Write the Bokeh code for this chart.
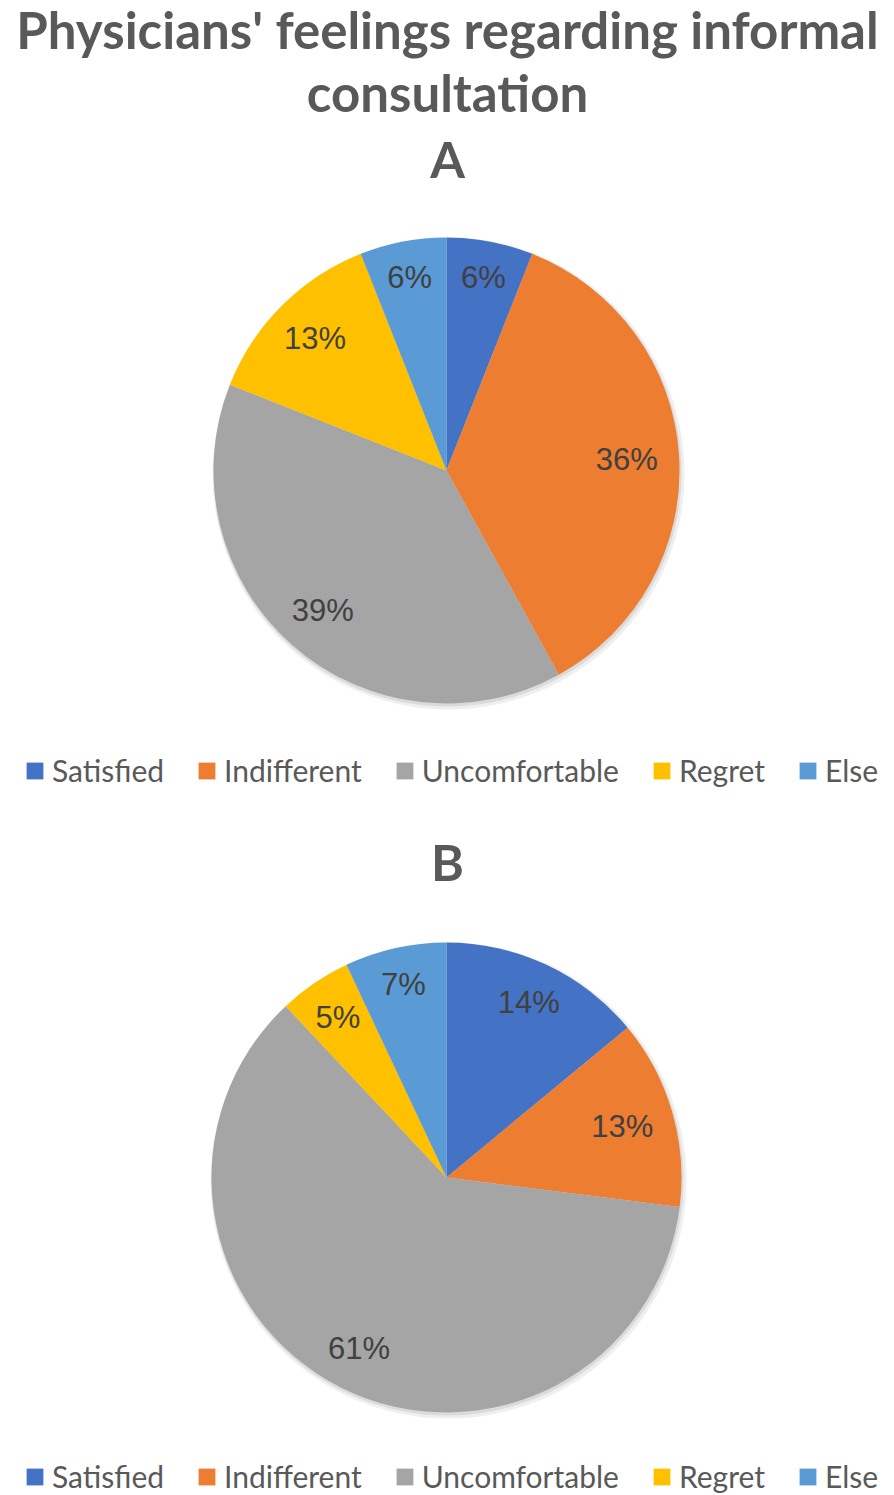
import numpy as np
from bokeh.plotting import figure
from bokeh.models import Range1d, ColumnDataSource, Legend, LegendItem
from bokeh.core.properties import value
from bokeh.embed import file_html
from bokeh.resources import INLINE

# ---- data ----
categories = ["Satisfied", "Indifferent", "Uncomfortable", "Regret", "Else"]
values_a = [6, 36, 39, 13, 6]
values_b = [14, 13, 61, 5, 7]
colors = ["#4472C4", "#ED7D31", "#A5A5A5", "#FFC000", "#5B9BD5"]
title_lines = ["Physicians' feelings regarding informal", "consultation"]
panel_titles = ["A", "B"]

# ---- layout (page pixel coordinates; y measured downward from top) ----
W, H = 894, 1495
LABEL_PX = 31


def Y(page_y):
    return H - page_y


p = figure(width=W, height=H, x_range=Range1d(0, W), y_range=Range1d(0, H),
           output_backend="svg", toolbar_location=None, min_border=0,
           x_axis_location=None, y_axis_location=None)
p.grid.visible = False
p.outline_line_color = None
p.background_fill_color = "white"
p.border_fill_color = "white"

TITLE_COLOR = "#595959"
LABEL_COLOR = "#404040"

# main title
p.text(x=[447, 447], y=[Y(29), Y(92)], text=title_lines,
       text_font=value("Lato"), text_font_style="bold", text_font_size="51px",
       text_color=TITLE_COLOR, text_align="center", text_baseline="middle")


def pie(vals, cx, cy_page, r, title_txt, title_mid_page, legend_y):
    cy = Y(cy_page)
    vals = np.asarray(vals, dtype=float)
    frac = vals / vals.sum()
    cum = np.concatenate([[0], np.cumsum(frac)])
    start = np.pi / 2 - 2 * np.pi * cum[:-1]
    end = np.pi / 2 - 2 * np.pi * cum[1:]
    mid = np.pi / 2 - 2 * np.pi * (cum[:-1] + frac / 2)
    labels = ["%d%%" % v for v in vals]
    # approximate label width, used to pull wide labels inward on the sides
    lw = np.array([(0.556 * (len(t) - 1) + 0.889) * LABEL_PX for t in labels])
    dist = 0.855 * r - 0.3 * lw * np.abs(np.cos(mid))
    src = ColumnDataSource(dict(
        x=[cx] * len(vals), y=[cy] * len(vals), start=start, end=end, color=colors,
        lx=cx + dist * np.cos(mid), ly=cy + dist * np.sin(mid),
        label=labels, cat=categories))
    # soft shadow
    p.circle(x=[cx + 2], y=[cy - 3], radius=r + 3, fill_color="#bfbfbf", fill_alpha=0.25, line_color=None)
    p.circle(x=[cx + 1], y=[cy - 2], radius=r + 1, fill_color="#a0a0a0", fill_alpha=0.25, line_color=None)
    wr = p.wedge(x="x", y="y", radius=r, start_angle="start", end_angle="end", direction="clock",
                 fill_color="color", line_color=None, source=src)
    p.text(x="lx", y="ly", text="label", source=src, text_font=value("Liberation Sans"),
           text_font_size="%dpx" % LABEL_PX, text_color=LABEL_COLOR, text_align="center",
           text_baseline="middle")
    p.text(x=[447], y=[Y(title_mid_page)], text=[title_txt], text_font=value("Lato"),
           text_font_style="bold", text_font_size="50px", text_color=TITLE_COLOR,
           text_align="center", text_baseline="middle")
    items = [LegendItem(label=c, renderers=[wr], index=i) for i, c in enumerate(categories)]
    leg = Legend(items=items, orientation="horizontal", location=(24, legend_y),
                 glyph_width=21, glyph_height=21, label_standoff=7, spacing=32,
                 padding=0, margin=0, border_line_alpha=0, background_fill_alpha=0,
                 label_text_font="Lato", label_text_font_size="30px",
                 label_text_color=TITLE_COLOR)
    p.add_layout(leg)


pie(values_a, 446, 470, 233, panel_titles[0], 158, 707)
pie(values_b, 446, 1177, 235, panel_titles[1], 861, 1)

open("out.html", "w").write(file_html(p, INLINE))
